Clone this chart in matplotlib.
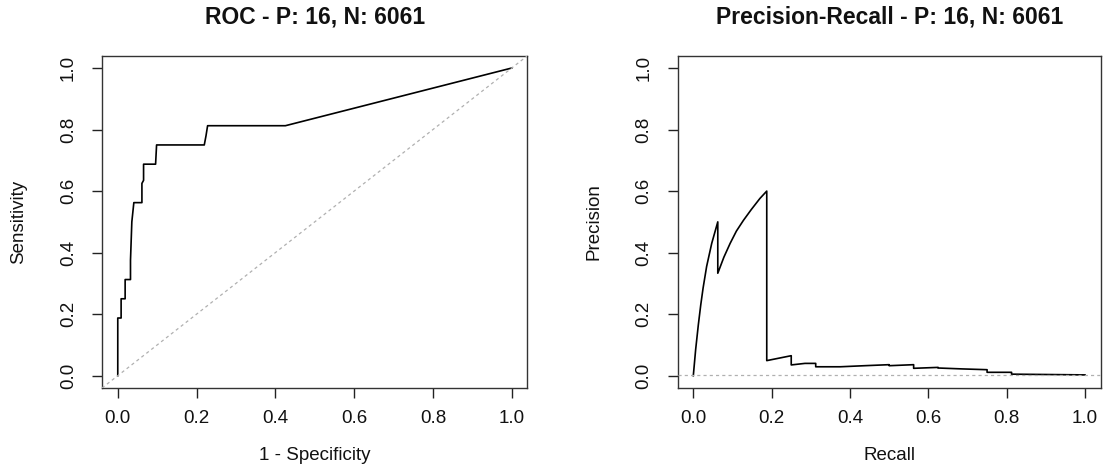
import matplotlib
matplotlib.use("Agg")
import matplotlib.pyplot as plt

plt.rcParams['font.family'] = ['Liberation Sans', 'DejaVu Sans']

# ROC curve (1 - specificity, sensitivity)
fpr = [0, 0, 0.0085, 0.0085, 0.0187, 0.0187, 0.0323, 0.0323, 0.034, 0.0357,
       0.0408, 0.0613, 0.0613, 0.0655, 0.0655, 0.096, 0.0985, 0.2196, 0.224,
       0.228, 0.4255, 1.0]
tpr = [0, 0.1875, 0.1875, 0.25, 0.25, 0.3125, 0.3125, 0.375, 0.4375, 0.5,
       0.5625, 0.5625, 0.625, 0.635, 0.6875, 0.6875, 0.75, 0.75, 0.78,
       0.8125, 0.8125, 1.0]

# Precision-recall curve
recall = [0, 0.006, 0.0128, 0.019, 0.025, 0.034, 0.047, 0.0625,
          0.0625, 0.078, 0.094, 0.11, 0.128, 0.148, 0.17, 0.1875,
          0.1875, 0.25, 0.25, 0.285, 0.3125, 0.3125, 0.375, 0.4375, 0.5,
          0.5, 0.5625, 0.5625, 0.625, 0.625, 0.6875, 0.75, 0.75, 0.8125,
          0.8125, 1.0]
precision = [0, 0.085, 0.165, 0.23, 0.285, 0.355, 0.43, 0.5,
             0.333, 0.385, 0.43, 0.47, 0.505, 0.54, 0.576, 0.6,
             0.049, 0.065, 0.035, 0.040, 0.040, 0.029, 0.029, 0.0325, 0.0358,
             0.0325, 0.0358, 0.024, 0.027, 0.025, 0.022, 0.0195, 0.011, 0.011,
             0.005, 0.0026]

n_pos = 16
n_neg = 6061
ticks = [0.0, 0.2, 0.4, 0.6, 0.8, 1.0]
tick_labels = ["0.0", "0.2", "0.4", "0.6", "0.8", "1.0"]

fig = plt.figure(figsize=(11.04, 4.69), dpi=100)
ax1 = fig.add_axes([0.0924, 0.1727, 0.3854, 0.7085])
ax2 = fig.add_axes([0.6138, 0.1727, 0.3832, 0.7085])

ref_style = dict(color='#b0b0b0', lw=0.9, linestyle=(0, (2.5, 2.5)), zorder=3)


def style_axes(ax, xlabel, ylabel, title):
    ax.set_xlim(-0.04, 1.04)
    ax.set_ylim(-0.04, 1.04)
    ax.set_xticks(ticks)
    ax.set_xticklabels(tick_labels)
    ax.set_yticks(ticks)
    ax.set_yticklabels(tick_labels, rotation=90, va='center')
    ax.tick_params(axis='both', direction='out', length=7, width=1,
                   labelsize=13.5, color='#222222', labelcolor='#111111')
    ax.tick_params(axis='x', pad=9)
    ax.tick_params(axis='y', pad=11)
    for s in ax.spines.values():
        s.set_linewidth(1)
        s.set_color('#333333')
    ax.set_xlabel(xlabel, fontsize=13.5, va='center', color='#111111')
    ax.xaxis.set_label_coords(0.5, -0.204)
    ax.set_ylabel(ylabel, fontsize=13.5, va='center', color='#111111')
    ax.yaxis.set_label_coords(-0.197, 0.5)
    ax.set_title(title, fontsize=16.5, fontweight='bold', y=1.116, pad=0,
                 va='center', color='#111111')


ax1.plot(fpr, tpr, color='black', lw=1.2, zorder=2)
ax1.axline((0, 0), (1, 1), **ref_style)
style_axes(ax1, "1 - Specificity", "Sensitivity",
           f"ROC - P: {n_pos}, N: {n_neg}")

ax2.plot(recall, precision, color='black', lw=1.2, zorder=2)
ax2.axhline(n_pos / (n_pos + n_neg), **ref_style)
style_axes(ax2, "Recall", "Precision",
           f"Precision-Recall - P: {n_pos}, N: {n_neg}")

fig.savefig("out.png", dpi=100)
